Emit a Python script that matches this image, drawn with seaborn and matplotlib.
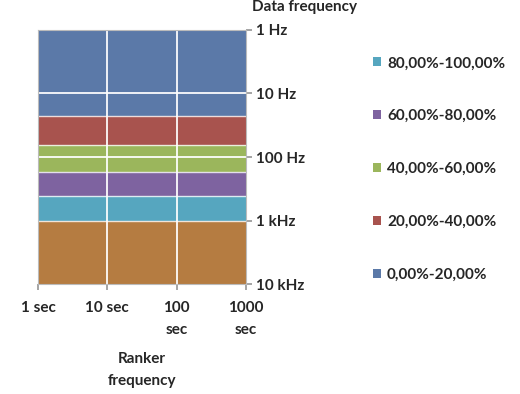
import numpy as np
import matplotlib
matplotlib.use("Agg")
import matplotlib.pyplot as plt
from matplotlib.patches import Patch
import seaborn as sns

# Categories and measured share of ranked data per data frequency
ranker_labels = ["1 sec", "10 sec", "100\nsec", "1000\nsec"]
data_freq_labels = ["1 Hz", "10 Hz", "100 Hz", "1 kHz", "10 kHz"]
share_by_freq = [0.0, 0.05, 0.48, 1.0, 1.0]   # same for every ranker frequency
band_edges = [0.0, 0.2, 0.4, 0.6, 0.8, 1.0, 1.2]
band_labels = ["0,00%-20,00%", "20,00%-40,00%", "40,00%-60,00%",
               "60,00%-80,00%", "80,00%-100,00%"]
band_colors = ["#5b79a8", "#a8534e", "#9bb65c", "#7e63a0", "#56a6bf", "#b57c41"]

sns.set_theme(style="white")
plt.rcParams["font.family"] = ["Lato", "DejaVu Sans"]
plt.rcParams["font.weight"] = "bold"

fs = 11

fig = plt.figure(figsize=(5.2, 3.94), dpi=100)
ax = fig.add_axes([0.073, 0.279, 0.400, 0.645])

xs = np.arange(len(ranker_labels))
ys = np.arange(len(data_freq_labels))
X, Y = np.meshgrid(xs, ys)
Z = np.tile(np.array(share_by_freq)[:, None], (1, len(xs)))

# bands include their lower edge, like a spreadsheet surface chart
levels = np.array(band_edges) - 1e-9
ax.contourf(X, Y, Z, levels=levels, colors=band_colors)
ax.contour(X, Y, Z, levels=levels[1:-1], colors="white", linewidths=1.0, alpha=0.8)

for xv in xs[1:-1]:
    ax.axvline(xv, color="white", lw=1.4, alpha=0.9)
for yv in ys[1:3]:
    ax.axhline(yv, color="white", lw=1.4, alpha=0.9)

ax.set_xlim(xs[0], xs[-1])
ax.set_ylim(ys[-1], ys[0])

ax.set_xticks(xs)
ax.set_xticklabels(ranker_labels, fontsize=fs, linespacing=1.75, va="top")
ax.yaxis.tick_right()
ax.set_yticks(ys)
ax.set_yticklabels(data_freq_labels, fontsize=fs)
ax.tick_params(axis="x", length=4, color="#999999", pad=8, direction="out", bottom=True)
ax.tick_params(axis="y", length=4, color="#999999", pad=3, direction="out", right=True)

for s in ax.spines.values():
    s.set_color("#bbbbbb")
    s.set_linewidth(0.8)

ax.set_xlabel("Ranker\nfrequency", fontsize=fs, fontweight="bold", linespacing=1.7, labelpad=11)
fig.text(0.485, 1.0, "Data frequency", fontsize=fs, fontweight="bold", va="top", ha="left")

handles = [Patch(facecolor=c, edgecolor="none") for c in band_colors[:5]]
leg = fig.legend(handles[::-1], band_labels[::-1], loc="upper left",
                 bbox_to_anchor=(0.69, 0.892), frameon=False, fontsize=fs,
                 handlelength=0.55, handleheight=0.55, handletextpad=0.4,
                 labelspacing=2.55)

fig.savefig("out.png", dpi=100)
